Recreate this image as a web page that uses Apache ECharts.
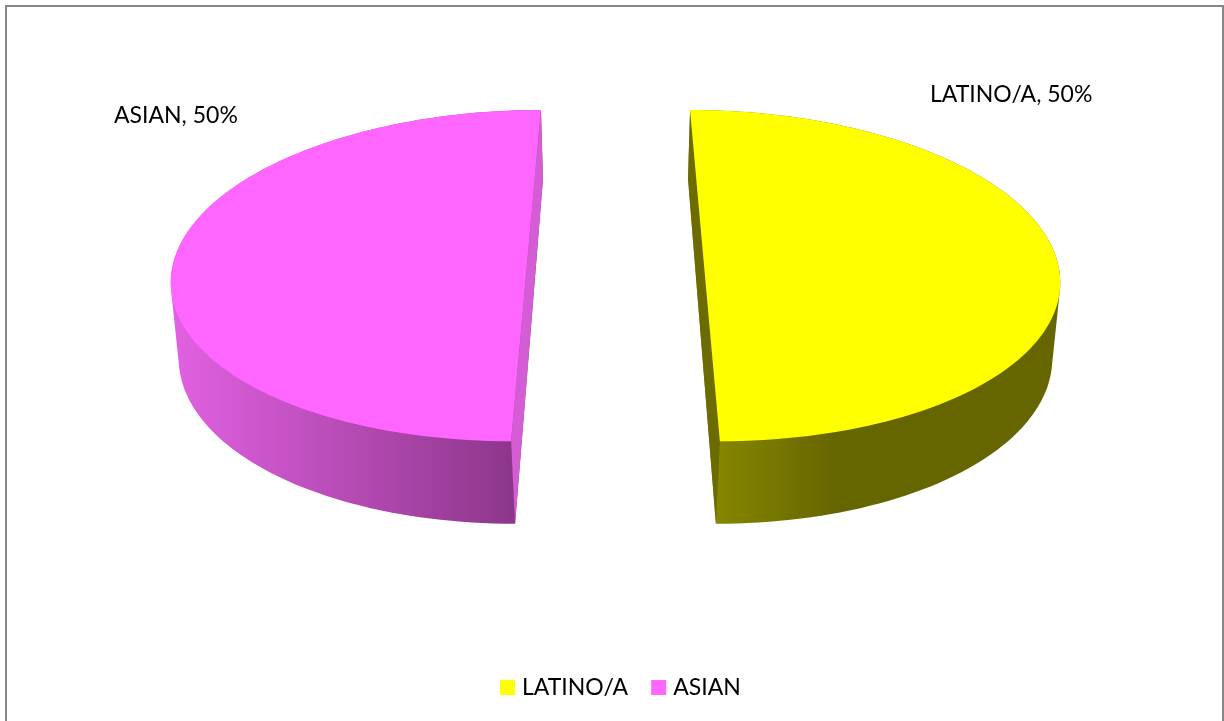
<!DOCTYPE html>
<html>
<head>
<meta charset="utf-8">
<style>html,body{margin:0;padding:0;background:#fff}#c{width:1224px;height:721px}</style>
<script src="https://cdn.jsdelivr.net/npm/echarts@6/dist/echarts.min.js"></script>
</head>
<body>
<div id="c"></div>
<script>
const categories = ['LATINO/A', 'ASIAN'];
const values = [50, 50];
const topColors = ['#ffff00', '#ff66ff'];
const innerWallColors = ['#6b6b00', '#d45cd4'];
const outerWallStops = [
  [[0, '#8e8e00'], [0.39, '#666600'], [1, '#666600']],
  [[0, '#e261e2'], [1, '#853383']]
];
const total = values.reduce((a, b) => a + b, 0);
const FONT = 'Lato, "Open Sans", sans-serif';

// camera model of the tilted, exploded disc
const VX = 615.5, VY = 248, RX = 350, RY = 161, DEPTH = 78, PERSP = 0.1667, PERSP_H = 0.0333, EXPLODE = 0.2486, FLARE = 1.02;
const labelAnchors = [[930, 95], [114, 116]];

function project(X, Y, h) {
  const w = 1 / (1 - PERSP * Y + PERSP_H * h);
  return [VX + RX * X * w, VY + (RY * Y + DEPTH * h) * w];
}

// outline of the solid slice: convex hull of its top and bottom faces
function hull(pts) {
  const p = pts.slice().sort((a, b) => a[0] - b[0] || a[1] - b[1]);
  const cross = (o, a, b) => (a[0] - o[0]) * (b[1] - o[1]) - (a[1] - o[1]) * (b[0] - o[0]);
  const half = list => {
    const out = [];
    for (const q of list) {
      while (out.length > 1 && cross(out[out.length - 2], out[out.length - 1], q) <= 0) out.pop();
      out.push(q);
    }
    out.pop();
    return out;
  };
  return half(p).concat(half(p.slice().reverse()));
}

function renderSlice(index) {
  return function (params, api) {
    const value = api.value(0);
    let before = 0;
    for (let k = 0; k < index; k++) before += values[k];
    const a0 = -Math.PI / 2 + before / total * 2 * Math.PI;
    const a1 = a0 + value / total * 2 * Math.PI;
    const mid = (a0 + a1) / 2;
    const ox = EXPLODE * Math.cos(mid), oy = EXPLODE * Math.sin(mid);
    const N = 120;
    const topArc = [], botArc = [];
    for (let j = 0; j <= N; j++) {
      const t = a0 + (a1 - a0) * j / N;
      const Y = oy + Math.sin(t);
      topArc.push(project(ox + Math.cos(t), Y, 0));
      botArc.push(project(ox + FLARE * Math.cos(t), Y, 1));
    }
    const grad = {
      type: 'linear', x: 0, y: 0, x2: 1, y2: 0,
      colorStops: outerWallStops[index].map(s => ({ offset: s[0], color: s[1] }))
    };
    return {
      type: 'group',
      children: [
        { type: 'polygon', shape: { points: hull(topArc.concat(botArc)) }, style: { fill: grad } },
        { type: 'polygon', shape: { points: [topArc[0], topArc[N], botArc[N], botArc[0]] }, style: { fill: innerWallColors[index] } },
        { type: 'polygon', shape: { points: topArc }, style: { fill: topColors[index] } },
        {
          type: 'text',
          style: {
            text: categories[index] + ', ' + Math.round(value / total * 100) + '%',
            x: labelAnchors[index][0], y: labelAnchors[index][1],
            fill: '#000', fontSize: 23, fontFamily: FONT, align: 'left', verticalAlign: 'middle'
          }
        }
      ]
    };
  };
}

const chart = echarts.init(document.getElementById('c'), null, { renderer: 'canvas' });
chart.setOption({
  animation: false,
  backgroundColor: '#fff',
  color: topColors,
  graphic: [{
    type: 'rect', silent: true, z: -1,
    shape: { x: 6, y: 6, width: 1217, height: 800 },
    style: { fill: 'none', stroke: '#878787', lineWidth: 2 }
  }],
  legend: {
    data: categories,
    left: 495, top: 671,
    itemWidth: 15, itemHeight: 15, itemGap: 23,
    icon: 'rect',
    selectedMode: false,
    textStyle: { fontFamily: FONT, fontSize: 23, color: '#000', padding: [0, 0, 0, 2] }
  },
  series: categories.map((name, i) => ({
    type: 'custom',
    name,
    coordinateSystem: 'none',
    silent: true,
    itemStyle: { color: topColors[i] },
    data: [[values[i]]],
    renderItem: renderSlice(i)
  }))
});
</script>
</body>
</html>
